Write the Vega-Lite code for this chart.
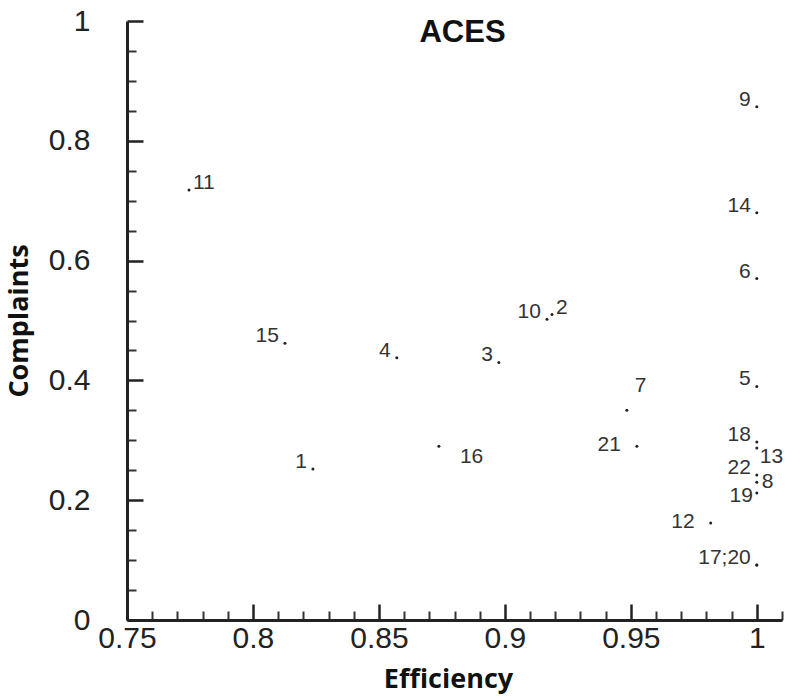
{
  "$schema": "https://vega.github.io/schema/vega-lite/v6.json",
  "autosize": {"type": "none"},
  "padding": {"left": 127, "top": 21, "right": 8, "bottom": 77},
  "width": 655,
  "height": 599,
  "background": "white",
  "config": {
    "view": {"stroke": null},
    "font": "Liberation Sans"
  },
  "title": {
    "text": "ACES",
    "font": "Liberation Sans",
    "fontSize": 31,
    "fontWeight": "bold",
    "color": "#111",
    "anchor": "middle",
    "baseline": "top",
    "offset": -43,
    "dx": 8
  },
  "data": {
    "values": [
      {"id": 1, "label": "1", "eff": 0.8238, "comp": 0.252},
      {"id": 2, "label": "2", "eff": 0.9187, "comp": 0.510},
      {"id": 3, "label": "3", "eff": 0.8976, "comp": 0.430},
      {"id": 4, "label": "4", "eff": 0.8571, "comp": 0.438},
      {"id": 5, "label": "5", "eff": 1.0, "comp": 0.390},
      {"id": 6, "label": "6", "eff": 1.0, "comp": 0.570},
      {"id": 7, "label": "7", "eff": 0.9484, "comp": 0.350},
      {"id": 8, "label": "8", "eff": 1.0, "comp": 0.230},
      {"id": 9, "label": "9", "eff": 1.0, "comp": 0.857},
      {"id": 10, "label": "10", "eff": 0.9167, "comp": 0.502},
      {"id": 11, "label": "11", "eff": 0.7746, "comp": 0.718},
      {"id": 12, "label": "12", "eff": 0.9817, "comp": 0.162},
      {"id": 13, "label": "13", "eff": 1.0, "comp": 0.287},
      {"id": 14, "label": "14", "eff": 1.0, "comp": 0.680},
      {"id": 15, "label": "15", "eff": 0.8127, "comp": 0.462},
      {"id": 16, "label": "16", "eff": 0.8738, "comp": 0.290},
      {"id": 17, "label": "17;20", "eff": 1.0, "comp": 0.092},
      {"id": 18, "label": "18", "eff": 1.0, "comp": 0.297},
      {"id": 19, "label": "19", "eff": 1.0, "comp": 0.212},
      {"id": 20, "label": "", "eff": 1.0, "comp": 0.092},
      {"id": 21, "label": "21", "eff": 0.9524, "comp": 0.290},
      {"id": 22, "label": "22", "eff": 1.0, "comp": 0.242}
    ]
  },
  "encoding": {
    "x": {"field": "eff", "type": "quantitative", "axis": null, "scale": {"domain": [0.75, 1.01], "nice": false, "zero": false}},
    "y": {"field": "comp", "type": "quantitative", "axis": null, "scale": {"domain": [0, 1], "nice": false}}
  },
  "resolve": {"axis": {"x": "independent", "y": "independent"}},
  "layer": [
    {
      "mark": {"type": "point", "opacity": 0},
      "encoding": {
        "x": {"field": "eff", "type": "quantitative", "axis": {"orient": "bottom", "values": [0.76,0.77,0.78,0.79,0.81,0.82,0.83,0.84,0.86,0.87,0.88,0.89,0.91,0.92,0.93,0.94,0.96,0.97,0.98,0.99,1.01], "labels": false, "domain": false, "grid": false, "title": null, "tickSize": -9, "tickWidth": 2, "tickColor": "#333"}},
        "y": {"field": "comp", "type": "quantitative", "axis": {"orient": "left", "values": [0.05,0.1,0.15,0.25,0.3,0.35,0.45,0.5,0.55,0.65,0.7,0.75,0.85,0.9,0.95], "labels": false, "domain": false, "grid": false, "title": null, "tickSize": -9, "tickWidth": 2, "tickColor": "#333"}}
      }
    },
    {
      "mark": {"type": "point", "filled": true, "size": 9, "color": "#222", "opacity": 1},
      "encoding": {
        "x": {"field": "eff", "type": "quantitative", "axis": {"orient": "bottom", "values": [0.75,0.8,0.85,0.9,0.95,1], "format": "~g", "grid": false, "title": "Efficiency", "titleX": 321, "titleFont": "Open Sans", "titleFontSize": 27, "titleFontWeight": "bold", "titleColor": "#111", "titlePadding": 13, "labelFont": "Liberation Sans", "labelFontSize": 30, "labelColor": "#222", "labelPadding": 19, "labelFlush": false, "domainColor": "#222", "domainWidth": 3, "tickSize": -16, "tickWidth": 2.5, "tickColor": "#222", "labelOverlap": false}},
        "y": {"field": "comp", "type": "quantitative", "axis": {"orient": "left", "values": [0,0.2,0.4,0.6,0.8,1], "format": "~g", "grid": false, "title": "Complaints", "titleFont": "Open Sans", "titleFontSize": 27, "titleFontWeight": "bold", "titleColor": "#111", "titlePadding": 15, "labelFont": "Liberation Sans", "labelFontSize": 30, "labelColor": "#222", "labelPadding": 53, "labelFlush": false, "domainColor": "#222", "domainWidth": 3, "tickSize": -16, "tickWidth": 2.5, "tickColor": "#222", "labelOverlap": false}}
      }
    },
    {
      "transform": [{"filter": {"field": "id", "oneOf": [1,3,4,5,6,9,10,14,15,17,18,22]}}],
      "mark": {"type": "text", "align": "right", "baseline": "alphabetic", "dx": -6, "dy": -1, "fontSize": 21, "color": "#333"},
      "encoding": {"text": {"field": "label"}}
    },
    {
      "transform": [{"filter": {"field": "id", "oneOf": [19]}}],
      "mark": {"type": "text", "align": "right", "baseline": "alphabetic", "dx": -4, "dy": 9, "fontSize": 21, "color": "#333"},
      "encoding": {"text": {"field": "label"}}
    },
    {
      "transform": [{"filter": {"field": "id", "oneOf": [12, 21]}}],
      "mark": {"type": "text", "align": "right", "baseline": "alphabetic", "dx": -16, "dy": 5, "fontSize": 21, "color": "#333"},
      "encoding": {"text": {"field": "label"}}
    },
    {
      "transform": [{"filter": {"field": "id", "oneOf": [2, 11]}}],
      "mark": {"type": "text", "align": "left", "baseline": "alphabetic", "dx": 4, "dy": -1, "fontSize": 21, "color": "#333"},
      "encoding": {"text": {"field": "label"}}
    },
    {
      "transform": [{"filter": {"field": "id", "oneOf": [13]}}],
      "mark": {"type": "text", "align": "left", "baseline": "alphabetic", "dx": 3, "dy": 15, "fontSize": 21, "color": "#333"},
      "encoding": {"text": {"field": "label"}}
    },
    {
      "transform": [{"filter": {"field": "id", "oneOf": [8]}}],
      "mark": {"type": "text", "align": "left", "baseline": "alphabetic", "dx": 5, "dy": 6, "fontSize": 21, "color": "#333"},
      "encoding": {"text": {"field": "label"}}
    },
    {
      "transform": [{"filter": {"field": "id", "oneOf": [7]}}],
      "mark": {"type": "text", "align": "left", "baseline": "alphabetic", "dx": 8, "dy": -18, "fontSize": 21, "color": "#333"},
      "encoding": {"text": {"field": "label"}}
    },
    {
      "transform": [{"filter": {"field": "id", "oneOf": [16]}}],
      "mark": {"type": "text", "align": "left", "baseline": "alphabetic", "dx": 21, "dy": 17, "fontSize": 21, "color": "#333"},
      "encoding": {"text": {"field": "label"}}
    }
  ]
}
